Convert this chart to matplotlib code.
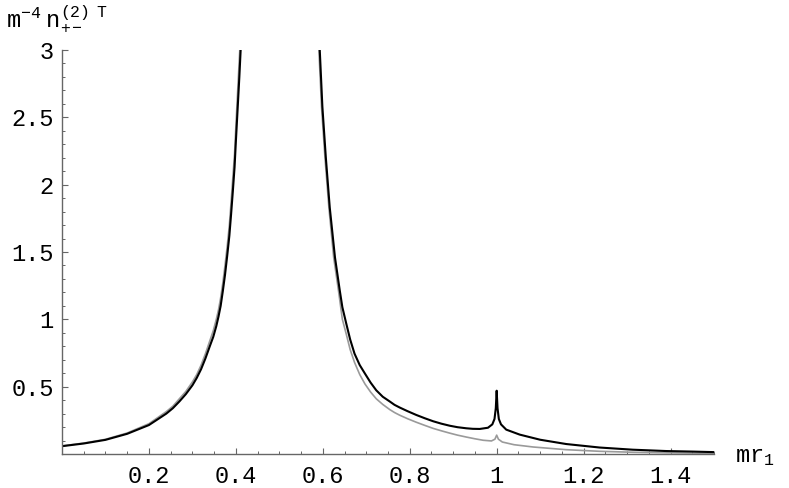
import numpy as np
import matplotlib
matplotlib.use("Agg")
import matplotlib.pyplot as plt
from matplotlib.ticker import MultipleLocator

plt.rcParams['font.family'] = ['Liberation Mono', 'DejaVu Sans Mono']
plt.rcParams['mathtext.fontset'] = 'custom'
plt.rcParams['mathtext.rm'] = 'Liberation Mono'
plt.rcParams['mathtext.it'] = 'Liberation Mono'

# black curve, left branch (below the pole)
black_left_x = [0.0, 0.05, 0.1, 0.15, 0.2, 0.24, 0.255, 0.27, 0.285, 0.3, 0.31, 0.32,
                0.33, 0.34, 0.348, 0.355, 0.36, 0.365, 0.37, 0.375, 0.38, 0.385,
                0.389, 0.393, 0.397, 0.4, 0.405, 0.408, 0.411]
black_left_y = [0.058, 0.078, 0.105, 0.15, 0.215, 0.30, 0.34, 0.39, 0.445, 0.51, 0.565,
                0.63, 0.71, 0.80, 0.87, 0.95, 1.02, 1.10, 1.21, 1.33, 1.47, 1.62,
                1.78, 1.95, 2.13, 2.32, 2.62, 2.80, 3.0]
# gray curve, left branch
gray_left_x = [0.0, 0.05, 0.1, 0.15, 0.2, 0.24, 0.255, 0.27, 0.285, 0.3, 0.31, 0.32,
               0.33, 0.34, 0.348, 0.355, 0.36, 0.365, 0.37, 0.375, 0.38, 0.385,
               0.389, 0.393, 0.397, 0.4, 0.405, 0.409]
gray_left_y = [0.060, 0.081, 0.109, 0.156, 0.225, 0.315, 0.355, 0.41, 0.465, 0.535, 0.59,
               0.66, 0.745, 0.84, 0.915, 1.0, 1.07, 1.16, 1.27, 1.40, 1.54, 1.70,
               1.87, 2.05, 2.23, 2.43, 2.75, 3.0]

# black curve, right branch (above the pole, spike at 1)
black_right_x = [0.593, 0.599, 0.607, 0.616, 0.628, 0.639, 0.645, 0.654, 0.663, 0.673,
                 0.685, 0.697, 0.71, 0.723, 0.738, 0.754, 0.765, 0.777, 0.795, 0.815,
                 0.835, 0.854, 0.873, 0.892, 0.91, 0.93, 0.945, 0.961, 0.98, 0.99,
                 0.995, 0.998, 1.0, 1.002, 1.005, 1.01, 1.022, 1.053, 1.1, 1.16,
                 1.237, 1.313, 1.39, 1.45, 1.5]
black_right_y = [3.0, 2.58, 2.2, 1.83, 1.46, 1.215, 1.09, 0.968, 0.85, 0.745,
                 0.66, 0.597, 0.53, 0.473, 0.425, 0.39, 0.365, 0.345, 0.318, 0.29,
                 0.265, 0.243, 0.225, 0.21, 0.199, 0.191, 0.187, 0.186, 0.195, 0.22,
                 0.26, 0.34, 0.47, 0.34, 0.26, 0.22, 0.181, 0.144, 0.106, 0.074,
                 0.048, 0.032, 0.022, 0.018, 0.014]
# gray curve, right branch
gray_right_x = [0.591, 0.597, 0.605, 0.614, 0.625, 0.636, 0.645, 0.654, 0.663, 0.673,
                0.685, 0.697, 0.71, 0.723, 0.738, 0.754, 0.765, 0.777, 0.795, 0.815,
                0.835, 0.854, 0.873, 0.892, 0.91, 0.93, 0.95, 0.969, 0.988, 0.996,
                1.0, 1.004, 1.013, 1.04, 1.084, 1.16, 1.237, 1.313, 1.39, 1.5]
gray_right_y = [3.0, 2.58, 2.2, 1.83, 1.46, 1.215, 1.0, 0.89, 0.775, 0.68,
                0.59, 0.52, 0.46, 0.41, 0.368, 0.33, 0.308, 0.288, 0.262, 0.236,
                0.212, 0.19, 0.172, 0.155, 0.14, 0.126, 0.113, 0.102, 0.097, 0.11,
                0.14, 0.11, 0.089, 0.069, 0.052, 0.032, 0.020, 0.013, 0.009, 0.005]

xtick_vals = [0.2, 0.4, 0.6, 0.8, 1.0, 1.2, 1.4]
xtick_labels = ["0.2", "0.4", "0.6", "0.8", "1", "1.2", "1.4"]
ytick_vals = [0.5, 1.0, 1.5, 2.0, 2.5, 3.0]
ytick_labels = ["0.5", "1", "1.5", "2", "2.5", "3"]

fig = plt.figure(figsize=(7.89, 4.88), dpi=100)
ax = fig.add_axes([62 / 789, 34 / 488, 652 / 789, 404 / 488])

gray = '#9a9a9a'
ax.plot(gray_left_x, gray_left_y, color=gray, lw=1.2, solid_joinstyle='round')
ax.plot(gray_right_x, gray_right_y, color=gray, lw=1.2, solid_joinstyle='round')
ax.plot(black_left_x, black_left_y, color='black', lw=1.5, solid_joinstyle='round')
ax.plot(black_right_x, black_right_y, color='black', lw=1.5, solid_joinstyle='round')

ax.set_xlim(0, 1.5)
ax.set_ylim(0, 3)
for s in ['top', 'right']:
    ax.spines[s].set_visible(False)
for s in ['left', 'bottom']:
    ax.spines[s].set_color('#666666')
    ax.spines[s].set_linewidth(1.0)

ax.set_xticks(xtick_vals)
ax.set_xticklabels(xtick_labels)
ax.set_yticks(ytick_vals)
ax.set_yticklabels(ytick_labels)
ax.xaxis.set_minor_locator(MultipleLocator(0.05))
ax.yaxis.set_minor_locator(MultipleLocator(0.1))
ax.tick_params(which='major', direction='in', length=4, width=0.8, color='#666666',
               labelsize=17, pad=6)
ax.tick_params(which='minor', direction='in', length=2.2, width=0.7, color='#666666')
ax.tick_params(axis='x', which='major', pad=8)

fig.text(0.007, 0.945, r'$\mathrm{m}^{-4}\ \mathrm{n}_{+-}^{(2)\ \ \mathrm{T}}$',
         fontsize=17, ha='left', va='baseline')
fig.text(0.931, 0.053, r'$\mathrm{mr}_{1}$', fontsize=17, ha='left', va='baseline')

fig.savefig("out.png", dpi=100)
